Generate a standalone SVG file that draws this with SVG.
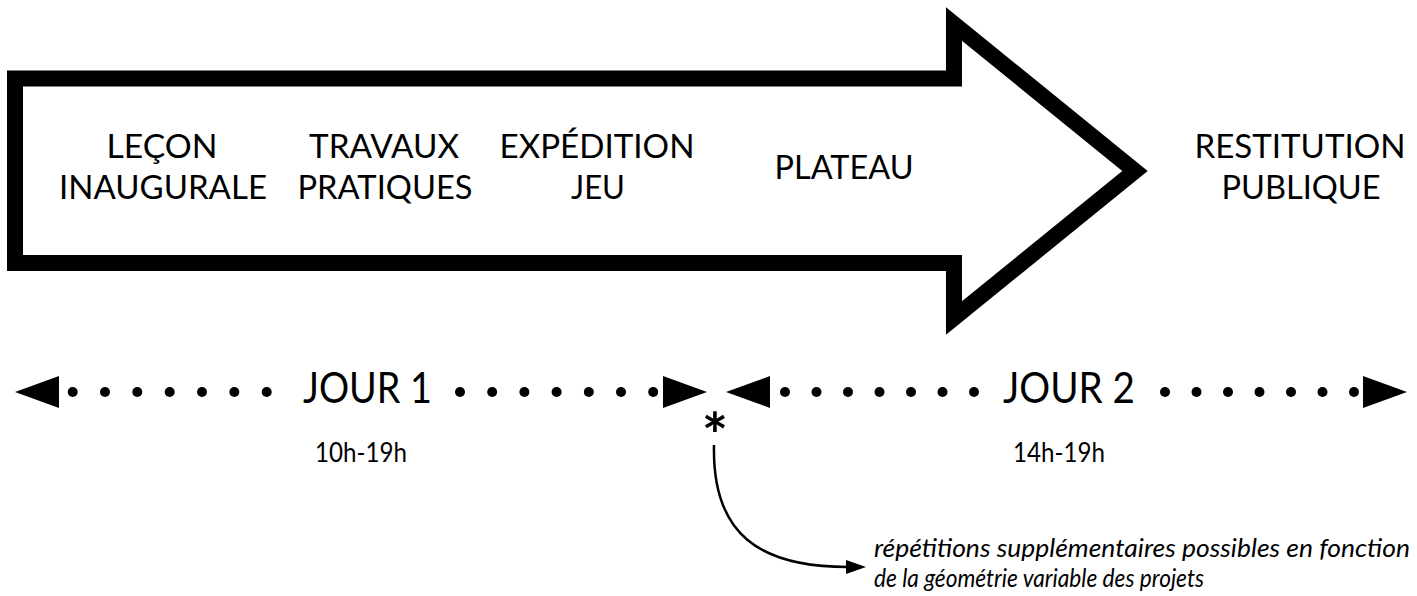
<svg xmlns="http://www.w3.org/2000/svg" width="1417" height="596" viewBox="0 0 1417 596">
<style>
.lbl{font-family:Lato,"Liberation Sans",sans-serif;font-size:32px;fill:#000;text-anchor:middle}
.day{font-family:Lato,"Liberation Sans",sans-serif;font-size:42px;fill:#000}
.hr{font-family:Lato,"Liberation Sans",sans-serif;font-size:27px;fill:#000}
.note{font-family:Lato,"Liberation Sans",sans-serif;font-size:25px;font-style:italic;fill:#000}
.dot{fill:#000}
.tri{fill:#000}
</style>
<defs>
<marker id="ah" viewBox="0 0 20 14" refX="2" refY="7" markerWidth="20" markerHeight="14" markerUnits="userSpaceOnUse" orient="auto">
<path d="M0,0 L20,7 L0,14 Z" fill="#000"/>
</marker>
<circle id="d" r="5" class="dot"/>
</defs>
<rect width="1417" height="596" fill="#fff"/>

<g id="big-arrow">
<polygon points="15,78.5 954,78.5 954,24 1135,171 954,318 954,263 15,263" fill="#fff" stroke="#000" stroke-width="16" stroke-linejoin="miter" stroke-miterlimit="6"/>
</g>

<g id="lecon">
<text class="lbl" x="162" y="158" textLength="111" lengthAdjust="spacingAndGlyphs">LEÇON</text>
<text class="lbl" x="163" y="199" textLength="208" lengthAdjust="spacingAndGlyphs">INAUGURALE</text>
</g>
<g id="travaux">
<text class="lbl" x="384" y="158" textLength="150" lengthAdjust="spacingAndGlyphs">TRAVAUX</text>
<text class="lbl" x="385" y="199" textLength="175" lengthAdjust="spacingAndGlyphs">PRATIQUES</text>
</g>
<g id="expedition">
<text class="lbl" x="597" y="158" textLength="195" lengthAdjust="spacingAndGlyphs">EXPÉDITION</text>
<text class="lbl" x="598" y="199" textLength="54" lengthAdjust="spacingAndGlyphs">JEU</text>
</g>
<g id="plateau">
<text class="lbl" x="844" y="179" textLength="139" lengthAdjust="spacingAndGlyphs">PLATEAU</text>
</g>
<g id="restitution">
<text class="lbl" x="1300" y="158" textLength="211" lengthAdjust="spacingAndGlyphs">RESTITUTION</text>
<text class="lbl" x="1301" y="199" textLength="159" lengthAdjust="spacingAndGlyphs">PUBLIQUE</text>
</g>

<g id="jour1">
<polygon class="tri" points="15,392 59,376 59,408"/>
<use href="#d" x="72.7" y="392"/><use href="#d" x="105" y="392"/><use href="#d" x="137.3" y="392"/><use href="#d" x="169.7" y="392"/><use href="#d" x="202" y="392"/><use href="#d" x="234.3" y="392"/><use href="#d" x="266.7" y="392"/>
<text class="day" x="303" y="403" textLength="129" lengthAdjust="spacingAndGlyphs">JOUR 1</text>
<use href="#d" x="460" y="392"/><use href="#d" x="492.2" y="392"/><use href="#d" x="524.4" y="392"/><use href="#d" x="556.6" y="392"/><use href="#d" x="588.8" y="392"/><use href="#d" x="621" y="392"/><use href="#d" x="653.2" y="392"/>
<polygon class="tri" points="707,392 663,376 663,408"/>
<text class="hr" x="315" y="462" textLength="92" lengthAdjust="spacingAndGlyphs">10h-19h</text>
</g>

<g id="jour2">
<polygon class="tri" points="726,392 770,376 770,408"/>
<use href="#d" x="785" y="392"/><use href="#d" x="816.5" y="392"/><use href="#d" x="848" y="392"/><use href="#d" x="879.5" y="392"/><use href="#d" x="911" y="392"/><use href="#d" x="942.5" y="392"/><use href="#d" x="974" y="392"/>
<text class="day" x="1003" y="403" textLength="132" lengthAdjust="spacingAndGlyphs">JOUR 2</text>
<use href="#d" x="1165" y="392"/><use href="#d" x="1196.5" y="392"/><use href="#d" x="1228" y="392"/><use href="#d" x="1259.5" y="392"/><use href="#d" x="1291" y="392"/><use href="#d" x="1322.5" y="392"/><use href="#d" x="1354" y="392"/>
<polygon class="tri" points="1407,392 1363,376 1363,408"/>
<text class="hr" x="1013" y="462" textLength="92" lengthAdjust="spacingAndGlyphs">14h-19h</text>
</g>

<g id="asterisk">
<text x="715" y="458" font-family="Lato,'Liberation Sans',sans-serif" font-size="62" font-weight="700" text-anchor="middle">*</text>
</g>

<g id="note">
<text class="note" x="874" y="557" textLength="536" lengthAdjust="spacingAndGlyphs">répétitions supplémentaires possibles en fonction</text>
<text class="note" x="874" y="587" textLength="330" lengthAdjust="spacingAndGlyphs">de la géométrie variable des projets</text>
</g>

<g id="connectors">
<path d="M714,445 C712,535 760,567 848,567" fill="none" stroke="#000" stroke-width="2.5" marker-end="url(#ah)"/>
</g>
</svg>
